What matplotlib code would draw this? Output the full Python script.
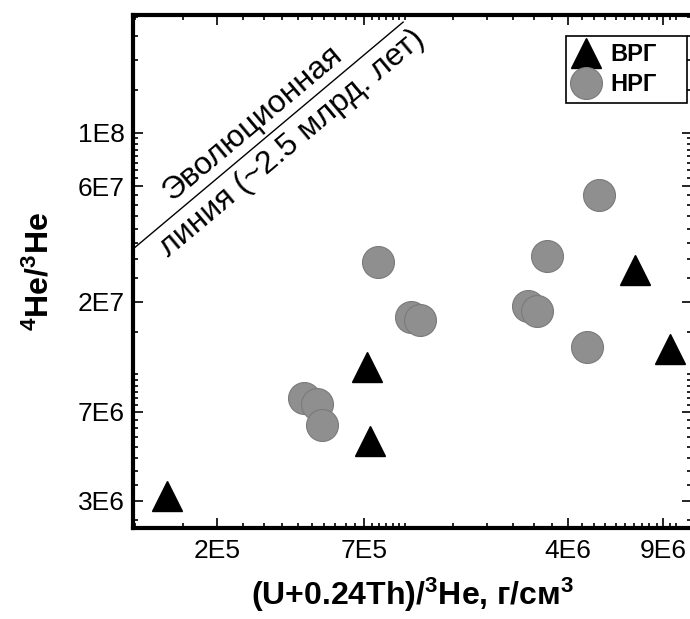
import matplotlib
matplotlib.use("Agg")
import matplotlib.pyplot as plt
import numpy as np
from matplotlib.lines import Line2D
from matplotlib.ticker import LogLocator, NullFormatter

plt.rcParams["font.family"] = ["Liberation Sans", "DejaVu Sans"]
plt.rcParams["mathtext.default"] = "regular"

# ВРГ (triangles)
vrg_x = [1.31e5, 7.2e5, 7.4e5, 7.1e6, 9.5e6]
vrg_y = [3.15e6, 1.07e7, 5.3e6, 2.7e7, 1.27e7]

# НРГ (grey circles)
nrg_x = [4.2e5, 4.7e5, 4.9e5, 7.9e5, 1.05e6, 1.13e6, 2.84e6, 3.07e6, 3.34e6, 4.7e6, 5.2e6]
nrg_y = [8.0e6, 7.55e6, 6.2e6, 2.92e7, 1.73e7, 1.68e7, 1.92e7, 1.83e7, 3.09e7, 1.30e7, 5.5e7]

# evolution line end points
evo_x = [9.8e4, 9.8e5]
evo_y = [3.3e7, 2.86e8]

x_ticks = [2e5, 7e5, 4e6, 9e6]
x_tick_labels = ["2E5", "7E5", "4E6", "9E6"]
y_ticks = [3e6, 7e6, 2e7, 6e7, 1e8]
y_tick_labels = ["3E6", "7E6", "2E7", "6E7", "1E8"]

GREY = "#8f8f8f"

fig = plt.figure(figsize=(6.9, 6.19), dpi=100)
ax = fig.add_axes([133 / 690, 1 - 528 / 619, (692 - 133) / 690, (528 - 15) / 619])

ax.set_xscale("log")
ax.set_yscale("log")
ax.set_xlim(9.8e4, 1.15e7)
ax.set_ylim(2.32e6, 3.06e8)

ax.plot(evo_x, evo_y, color="black", linewidth=1.0, zorder=2)

ax.plot(nrg_x, nrg_y, linestyle="none", marker="o", markersize=23,
        markerfacecolor=GREY, markeredgecolor="#7a7a7a", markeredgewidth=0.8, zorder=3)
ax.plot(vrg_x, vrg_y, linestyle="none", marker="^", markersize=21,
        markerfacecolor="black", markeredgecolor="black", zorder=4)

ax.text(2.72e5, 1.09e8, "Эволюционная", rotation=40, rotation_mode="anchor",
        ha="center", va="center", fontsize=23)
ax.text(3.80e5, 9.0e7, "линия (~2.5 млрд. лет)", rotation=40, rotation_mode="anchor",
        ha="center", va="center", fontsize=23)

ax.set_xticks(x_ticks, x_tick_labels)
ax.set_yticks(y_ticks, y_tick_labels)
sub = np.arange(1, 10, 0.5)
ax.xaxis.set_minor_locator(LogLocator(base=10, subs=sub, numticks=50))
ax.yaxis.set_minor_locator(LogLocator(base=10, subs=sub, numticks=50))
ax.xaxis.set_minor_formatter(NullFormatter())
ax.yaxis.set_minor_formatter(NullFormatter())
ax.tick_params(which="both", direction="in", top=True, right=True, width=1.2)
ax.tick_params(which="major", length=7, labelsize=19)
ax.tick_params(which="minor", length=3.5)
ax.tick_params(axis="x", which="major", pad=8)
ax.tick_params(axis="y", which="major", pad=6)

for spine in ax.spines.values():
    spine.set_linewidth(3)

ax.set_xlabel("(U+0.24Th)/$^3$He, г/см$^3$", fontsize=23, fontweight="bold", labelpad=9)
ax.set_ylabel("$^4$He/$^3$He", fontsize=23, fontweight="bold", labelpad=16)

handles = [
    Line2D([], [], linestyle="none", marker="^", markersize=21,
           markerfacecolor="black", markeredgecolor="black"),
    Line2D([], [], linestyle="none", marker="o", markersize=23,
           markerfacecolor=GREY, markeredgecolor="#7a7a7a", markeredgewidth=0.8),
]
leg = ax.legend(handles, ["ВРГ", "НРГ"], loc="upper left",
                bbox_to_anchor=(0.7746, 0.80, 0.2165, 0.159), mode="expand",
                prop={"weight": "bold", "size": 17}, frameon=True, fancybox=False,
                edgecolor="black", framealpha=1, borderpad=0.3, labelspacing=0.3,
                handlelength=1.1, handletextpad=0.5, borderaxespad=0)
leg.get_frame().set_linewidth(1.2)

fig.savefig("out.png", dpi=100)
